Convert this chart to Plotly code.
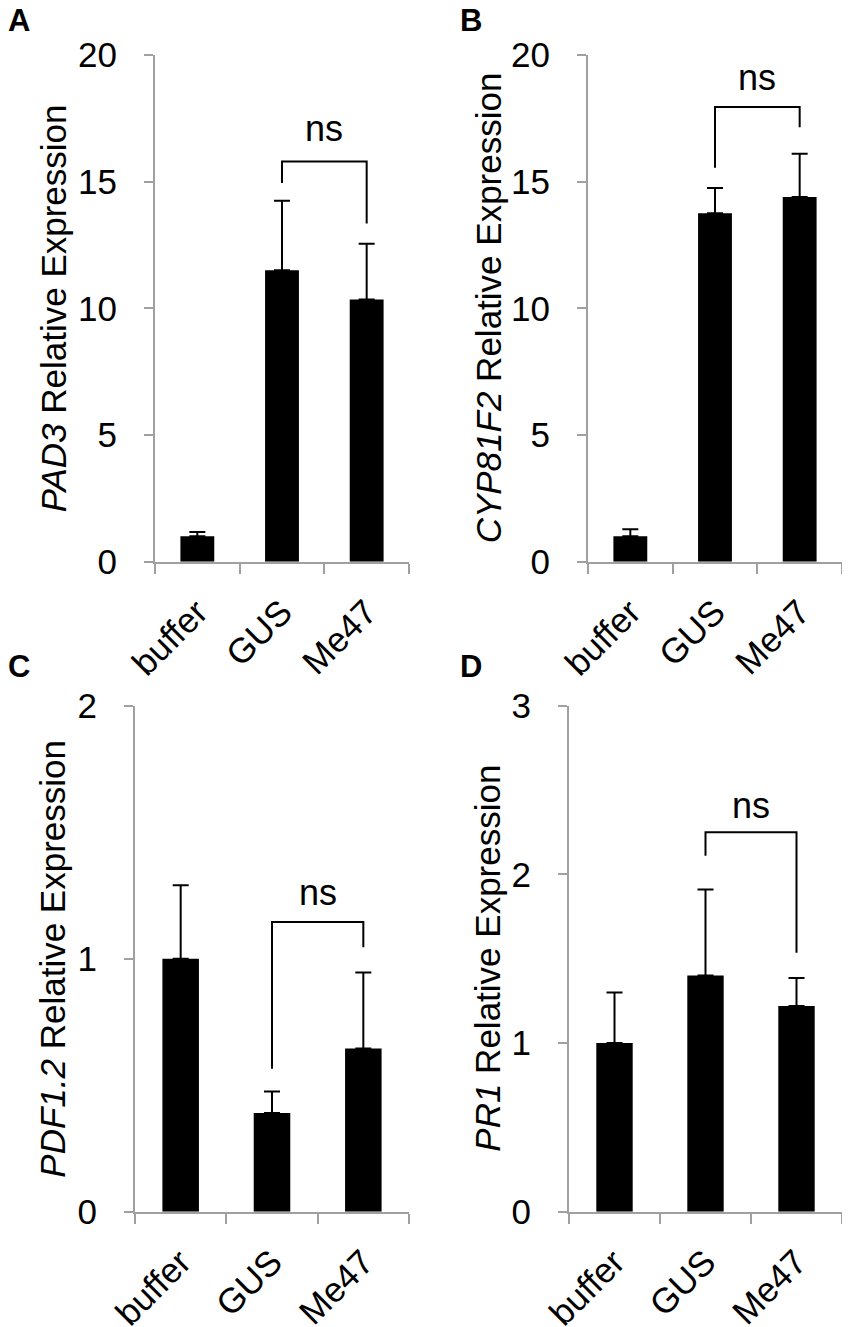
import plotly.graph_objects as go

# Data
groups = ["buffer", "GUS", "Me47"]

pad3_mean = [1.0, 11.5, 10.35]
pad3_err = [0.17, 2.75, 2.2]

cyp_mean = [1.0, 13.75, 14.4]
cyp_err = [0.28, 1.0, 1.7]

pdf_mean = [1.0, 0.39, 0.645]
pdf_err = [0.29, 0.085, 0.30]

pr1_mean = [1.0, 1.40, 1.22]
pr1_err = [0.30, 0.51, 0.165]

# ns brackets: [left foot, top, right foot] and label height
pad3_bracket = [14.95, 15.8, 13.35]
pad3_ns = 17.1
cyp_bracket = [15.55, 17.95, 17.15]
cyp_ns = 19.1
pdf_bracket = [0.565, 1.145, 1.045]
pdf_ns = 1.26
pr1_bracket = [2.11, 2.25, 1.535]
pr1_ns = 2.41

# page body has an 8px margin, so the figure is a bit smaller than the window
OFF = 8
W, H = 850 - OFF, 1327 - OFF
FONT = "Arial, Liberation Sans, sans-serif"
AXIS_GREY = "#a0a0a0"

fig = go.Figure()

panels = [
    # letter, gene, means, errs, bracket, ns, ymax, dtick, x px range, y px range, title x, label x, label y
    ("A", "PAD3", pad3_mean, pad3_err, pad3_bracket, pad3_ns, 20, 5, (155, 409), (55, 561.7), 53, 8, 21),
    ("B", "CYP81F2", cyp_mean, cyp_err, cyp_bracket, cyp_ns, 20, 5, (588, 842), (55, 561.7), 488, 460, 21),
    ("C", "PDF1.2", pdf_mean, pdf_err, pdf_bracket, pdf_ns, 2, 1, (135, 409), (705.7, 1211.7), 53, 8, 666),
    ("D", "PR1", pr1_mean, pr1_err, pr1_bracket, pr1_ns, 3, 1, (569, 842), (705.7, 1211.7), 488, 460, 666),
]


def px_x(v):
    return (v - OFF) / W


def px_y(v):
    return 1 - (v - OFF) / H


layout = {}
for i, (letter, gene, means, errs, bracket, ns_y, ymax, dt, xpx, ypx, tx, lx, ly) in enumerate(panels):
    n = "" if i == 0 else str(i + 1)
    xa, ya = "x" + n, "y" + n

    fig.add_trace(go.Bar(
        x=groups, y=means, xaxis=xa, yaxis=ya, width=0.4,
        marker=dict(color="black", line=dict(width=0)),
        error_y=dict(type="data", array=errs, arrayminus=[0] * len(errs), symmetric=False,
                     color="black", thickness=2, width=8),
        showlegend=False,
    ))
    fig.add_trace(go.Scatter(
        x=["GUS", "GUS", "Me47", "Me47"],
        y=[bracket[0], bracket[1], bracket[1], bracket[2]],
        xaxis=xa, yaxis=ya, mode="lines",
        line=dict(color="black", width=2), showlegend=False, hoverinfo="skip",
    ))

    layout["xaxis" + n] = dict(
        domain=[px_x(xpx[0]), px_x(xpx[1])], anchor=ya, range=[-0.5, 2.5], automargin=False,
        showline=True, linecolor=AXIS_GREY, linewidth=2,
        ticks="outside", tickson="boundaries", ticklen=10, tickwidth=2, tickcolor=AXIS_GREY,
        tickangle=-45, tickfont=dict(size=35, color="black", family=FONT),
        ticklabelstandoff=14, showgrid=False, zeroline=False, fixedrange=True,
    )
    layout["yaxis" + n] = dict(
        domain=[px_y(ypx[1]), px_y(ypx[0])], anchor=xa, range=[0, ymax], automargin=False,
        tickmode="linear", tick0=0, dtick=dt,
        showline=True, linecolor=AXIS_GREY, linewidth=2,
        ticks="outside", ticklen=9, tickwidth=2, tickcolor=AXIS_GREY,
        tickfont=dict(size=35, color="black", family=FONT),
        ticklabelstandoff=20, showgrid=False, zeroline=False, fixedrange=True,
    )

    fig.add_annotation(
        x=1.5, y=ns_y, xref=xa, yref=ya, text="ns", showarrow=False,
        font=dict(size=36, color="black", family=FONT),
    )
    fig.add_annotation(
        x=px_x(tx), y=px_y((ypx[0] + ypx[1]) / 2), xref="paper", yref="paper",
        text="<i>%s</i> Relative Expression" % gene, textangle=-90, showarrow=False,
        xanchor="center", yanchor="middle",
        font=dict(size=35, color="black", family=FONT),
    )
    fig.add_annotation(
        x=px_x(lx - 2), y=px_y(ly), xref="paper", yref="paper",
        text="<b>%s</b>" % letter, showarrow=False, xanchor="left", yanchor="middle",
        font=dict(size=31, color="black", family=FONT),
    )

fig.update_layout(
    width=W, height=H,
    margin=dict(l=0, r=0, t=0, b=0),
    plot_bgcolor="white", paper_bgcolor="white",
    **layout,
)

fig.write_html("out.html")
